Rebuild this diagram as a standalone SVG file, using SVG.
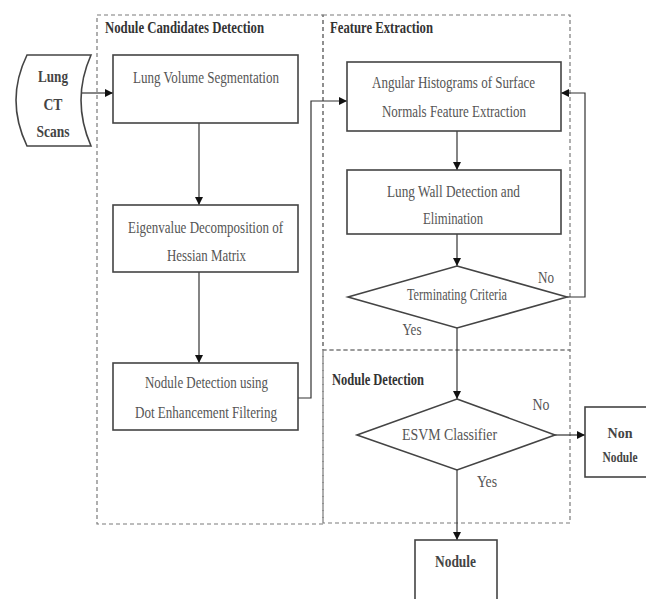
<svg xmlns="http://www.w3.org/2000/svg" width="646" height="599" viewBox="0 0 646 599">
<defs>
<marker id="ah" viewBox="0 0 10 10" refX="10" refY="5" markerWidth="8" markerHeight="8" markerUnits="userSpaceOnUse" orient="auto">
<path d="M0,0 L10,5 L0,10 Z" fill="#111"/>
</marker>
<style>
.region{fill:none;stroke:#7a7a7a;stroke-width:1.2;stroke-dasharray:4 3}
.box{fill:#fff;stroke:#444;stroke-width:1.6}
.t{font-family:"Liberation Serif","DejaVu Serif",serif;font-size:16px;fill:#555;text-anchor:middle}
.h{font-family:"Liberation Serif","DejaVu Serif",serif;font-size:16px;font-weight:bold;fill:#333}
.b{font-family:"Liberation Serif","DejaVu Serif",serif;font-size:16px;font-weight:bold;fill:#444;text-anchor:middle}
.s{font-size:14px}
.c{fill:none;stroke:#333;stroke-width:1.2}
</style>
</defs>
<rect width="646" height="599" fill="#fff"/>

<g id="regions">
<rect class="region" x="97" y="15" width="226" height="509"/>
<rect class="region" x="323" y="15" width="247" height="335"/>
<rect class="region" x="323" y="350" width="247" height="173"/>
<text class="h" x="105" y="33" textLength="159" lengthAdjust="spacingAndGlyphs">Nodule Candidates Detection</text>
<text class="h" x="330" y="33" textLength="103" lengthAdjust="spacingAndGlyphs">Feature Extraction</text>
<text class="h" x="332" y="385" textLength="92" lengthAdjust="spacingAndGlyphs">Nodule Detection</text>
</g>

<g id="connectors">
<path class="c" d="M81,93 H113" marker-end="url(#ah)"/>
<path class="c" d="M199,123 V205" marker-end="url(#ah)"/>
<path class="c" d="M199,272 V363" marker-end="url(#ah)"/>
<path class="c" d="M298,398 H311 V101 H347" marker-end="url(#ah)"/>
<path class="c" d="M457,131 V170" marker-end="url(#ah)"/>
<path class="c" d="M457,234 V266" marker-end="url(#ah)"/>
<path class="c" d="M567,297 H585 V93 H561" marker-end="url(#ah)"/>
<path class="c" d="M457,328 V399" marker-end="url(#ah)"/>
<path class="c" d="M555,435 H585" marker-end="url(#ah)"/>
<path class="c" d="M457,470 V540" marker-end="url(#ah)"/>
<text class="t" x="546" y="283" textLength="16" lengthAdjust="spacingAndGlyphs">No</text>
<text class="t" x="412" y="335" textLength="19" lengthAdjust="spacingAndGlyphs">Yes</text>
<text class="t" x="541" y="410" textLength="17" lengthAdjust="spacingAndGlyphs">No</text>
<text class="t" x="487" y="487" textLength="20" lengthAdjust="spacingAndGlyphs">Yes</text>
</g>

<g id="ct-scans">
<path class="box" d="M27,55 L91,55 Q71,100 91,146 L27,146 Q5,100 27,55 Z"/>
<text class="b" x="53" y="82" textLength="30" lengthAdjust="spacingAndGlyphs">Lung</text>
<text class="b" x="53" y="110" textLength="19" lengthAdjust="spacingAndGlyphs">CT</text>
<text class="b" x="53" y="137" textLength="33" lengthAdjust="spacingAndGlyphs">Scans</text>
</g>

<g id="lung-volume">
<rect class="box" x="113" y="55" width="185" height="68"/>
<text class="t" x="206" y="83" textLength="146" lengthAdjust="spacingAndGlyphs">Lung Volume Segmentation</text>
</g>

<g id="eigenvalue">
<rect class="box" x="113" y="205" width="185" height="67"/>
<text class="t" x="205.5" y="233" textLength="155" lengthAdjust="spacingAndGlyphs">Eigenvalue Decomposition of</text>
<text class="t" x="206.5" y="261" textLength="79" lengthAdjust="spacingAndGlyphs">Hessian Matrix</text>
</g>

<g id="dot-enhancement">
<rect class="box" x="113" y="363" width="185" height="67"/>
<text class="t" x="206.5" y="388" textLength="123" lengthAdjust="spacingAndGlyphs">Nodule Detection using</text>
<text class="t" x="206" y="418" textLength="142" lengthAdjust="spacingAndGlyphs">Dot Enhancement Filtering</text>
</g>

<g id="angular-histograms">
<rect class="box" x="347" y="62" width="214" height="69"/>
<text class="t" x="453.5" y="88" textLength="163" lengthAdjust="spacingAndGlyphs">Angular Histograms of Surface</text>
<text class="t" x="454" y="117" textLength="144" lengthAdjust="spacingAndGlyphs">Normals Feature Extraction</text>
</g>

<g id="lung-wall">
<rect class="box" x="347" y="170" width="214" height="64"/>
<text class="t" x="453.5" y="197" textLength="133" lengthAdjust="spacingAndGlyphs">Lung Wall Detection and</text>
<text class="t" x="453" y="224" textLength="60" lengthAdjust="spacingAndGlyphs">Elimination</text>
</g>

<g id="terminating-criteria">
<path class="box" d="M457,266 L567,297 L457,328 L348,297 Z"/>
<text class="t" x="457" y="300" textLength="100" lengthAdjust="spacingAndGlyphs">Terminating Criteria</text>
</g>

<g id="esvm">
<path class="box" d="M457,399 L555,435 L457,470 L357,435 Z"/>
<text class="t" x="449.5" y="440" textLength="95" lengthAdjust="spacingAndGlyphs">ESVM Classifier</text>
</g>

<g id="non-nodule">
<rect class="box" x="585" y="407" width="78" height="70"/>
<text class="b s" x="620" y="438" textLength="25" lengthAdjust="spacingAndGlyphs">Non</text>
<text class="b s" x="620" y="462" textLength="35" lengthAdjust="spacingAndGlyphs">Nodule</text>
</g>

<g id="nodule">
<rect class="box" x="415" y="540" width="82" height="70"/>
<text class="b" x="455.5" y="567" textLength="41" lengthAdjust="spacingAndGlyphs">Nodule</text>
</g>
</svg>
